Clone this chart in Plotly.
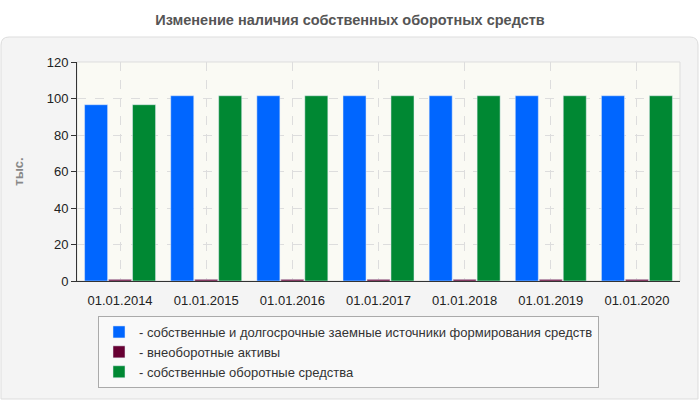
import plotly.graph_objects as go

# data
dates = ["01.01.2014", "01.01.2015", "01.01.2016", "01.01.2017",
         "01.01.2018", "01.01.2019", "01.01.2020"]
own_and_longterm = [96.6, 101.5, 101.5, 101.5, 101.5, 101.5, 101.5]
noncurrent_assets = [0.9, 0.9, 0.9, 0.9, 0.9, 0.9, 0.9]
own_working_capital = [96.6, 101.5, 101.5, 101.5, 101.5, 101.5, 101.5]

W, H = 700, 400
L, R, T, B = 77, 20, 62, 119
pw, ph = W - L - R, H - T - B


def px_x(x):
    return (x - L) / pw


def px_y(y):
    return (H - B - y) / ph


fig = go.Figure()

fig.add_trace(go.Bar(
    x=dates, y=own_and_longterm,
    name="- собственные и долгосрочные заемные источники формирования средств",
    marker_color="#0066ff",
))
fig.add_trace(go.Bar(
    x=dates, y=noncurrent_assets,
    name="- внеоборотные активы",
    marker_color="#660033",
))
fig.add_trace(go.Bar(
    x=dates, y=own_working_capital,
    name="- собственные оборотные средства",
    marker_color="#008833",
))

# grey rounded panel behind everything
fig.add_shape(
    type="path", xref="paper", yref="paper", layer="below",
    path=(f"M {px_x(9)} {px_y(37)} L {px_x(690)} {px_y(37)} "
          f"Q {px_x(698)} {px_y(37)} {px_x(698)} {px_y(45)} "
          f"L {px_x(698)} {px_y(399)} L {px_x(1)} {px_y(399)} "
          f"L {px_x(1)} {px_y(45)} Q {px_x(1)} {px_y(37)} {px_x(9)} {px_y(37)} Z"),
    fillcolor="#f4f4f4", line=dict(color="#dddddd", width=1),
)
# light frame around the plotting area
fig.add_shape(
    type="rect", xref="paper", yref="paper", layer="below",
    x0=0, x1=1, y0=0, y1=1,
    fillcolor="#fafaf4", line=dict(color="#dddddd", width=1),
)

fig.update_layout(
    width=W, height=H,
    margin=dict(l=L, r=R, t=T, b=B),
    paper_bgcolor="white",
    plot_bgcolor="rgba(0,0,0,0)",
    font=dict(family="Liberation Sans, Arial", size=13, color="#222222"),
    title=dict(
        text="<b>Изменение наличия собственных оборотных средств</b>",
        x=0.5, xref="container", xanchor="center",
        y=1 - 20 / H, yanchor="middle",
        font=dict(size=14.5, color="#555555"),
    ),
    barmode="group",
    bargap=0.165,
    bargroupgap=0.04,
    showlegend=True,
    legend=dict(
        x=px_x(98), xanchor="left",
        y=px_y(316), yanchor="top",
        bgcolor="#f9f9f9", bordercolor="#aaaaaa", borderwidth=1,
        font=dict(size=13, color="#333333"),
        tracegroupgap=0, itemwidth=30,
    ),
    xaxis=dict(
        type="category",
        showline=True, linecolor="#333333", linewidth=1,
        showgrid=True, gridcolor="#dddddd", griddash="dash",
        ticks="", ticklabelstandoff=7,
        tickfont=dict(size=13, color="#222222"),
    ),
    yaxis=dict(
        range=[0, 120], dtick=20,
        showline=True, linecolor="#333333", linewidth=1,
        ticks="outside", ticklen=5, tickcolor="#333333",
        showgrid=True, gridcolor="#dddddd", griddash="dash",
        zeroline=False,
        tickfont=dict(size=13, color="#222222"),
        title=dict(text="<b>тыс.</b>", font=dict(size=13, color="#888888"),
                   standoff=20),
    ),
)

# the page has a default body margin; remove it so the chart sits at 0,0
fig.write_html("out.html", config={"displayModeBar": False},
               post_script="document.body.style.margin='0';")
